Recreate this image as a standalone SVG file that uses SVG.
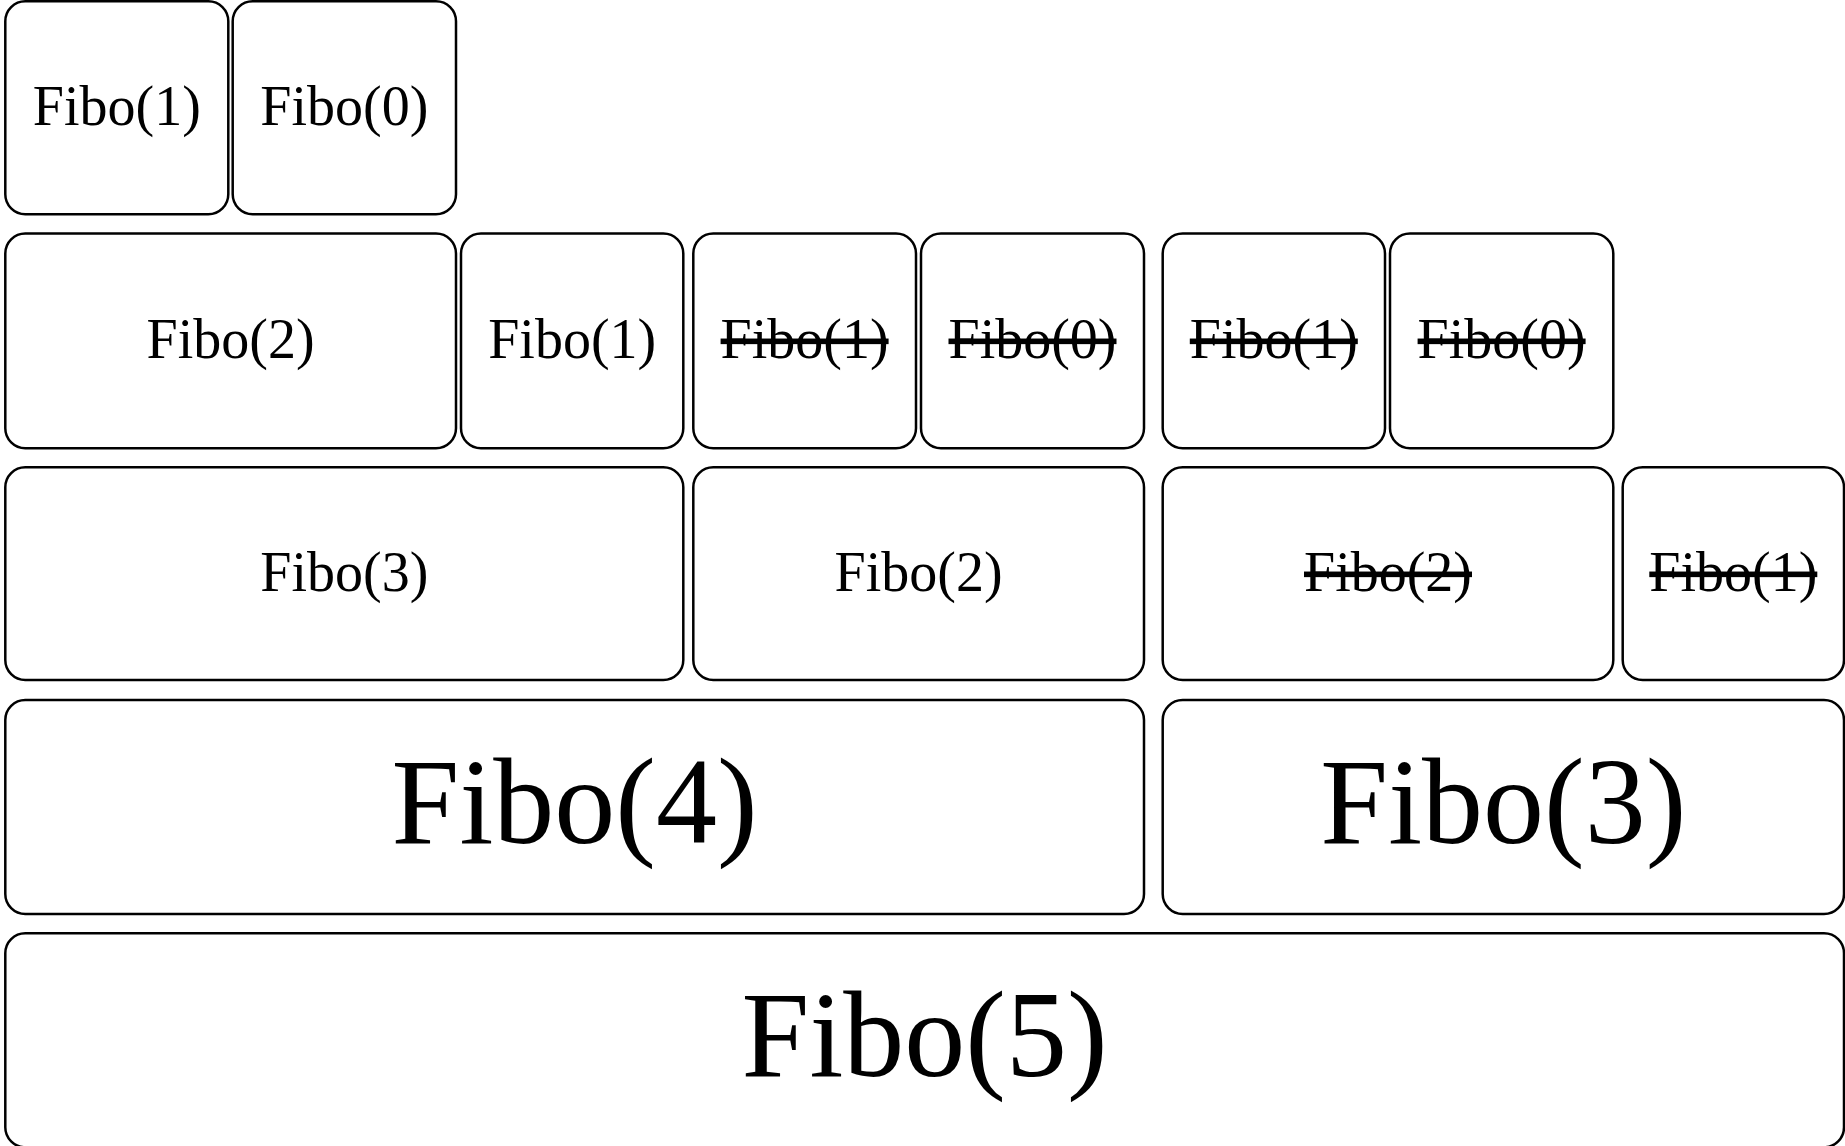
<svg xmlns="http://www.w3.org/2000/svg" width="1845" height="1146" viewBox="0 0 1845 1146">
<style>
.box{fill:#fff;stroke:#000;stroke-width:2.5}
.t{font-family:"Liberation Serif","Times New Roman",serif;fill:#000;text-anchor:middle}
.s{font-size:56px}
.l{font-size:122px}
.x{text-decoration:line-through}
</style>
<rect width="1845" height="1146" fill="#fff"/>
<g id="connectors"></g>
<g id="r1-fibo1"><rect class="box" x="5.3" y="1.3" width="223" height="213" rx="20"/><text class="t s" x="116.8" y="125">Fibo(1)</text></g>
<g id="r1-fibo0"><rect class="box" x="232.7" y="1.3" width="223.3" height="213" rx="20"/><text class="t s" x="344.3" y="125">Fibo(0)</text></g>
<g id="r2-fibo2"><rect class="box" x="5.3" y="233.5" width="450.7" height="214.8" rx="20"/><text class="t s" x="230.6" y="358">Fibo(2)</text></g>
<g id="r2-fibo1"><rect class="box" x="461" y="233.5" width="222.3" height="214.8" rx="20"/><text class="t s" x="572.2" y="358">Fibo(1)</text></g>
<g id="r2-fibo1-x"><rect class="box" x="693.3" y="233.5" width="222.7" height="214.8" rx="20"/><text class="t s x" x="804.6" y="358">Fibo(1)</text></g>
<g id="r2-fibo0-x"><rect class="box" x="921" y="233.5" width="223" height="214.8" rx="20"/><text class="t s x" x="1032.5" y="358">Fibo(0)</text></g>
<g id="r2-fibo1-x2"><rect class="box" x="1162.7" y="233.5" width="222.3" height="214.8" rx="20"/><text class="t s x" x="1273.8" y="358">Fibo(1)</text></g>
<g id="r2-fibo0-x2"><rect class="box" x="1390" y="233.5" width="223.3" height="214.8" rx="20"/><text class="t s x" x="1501.6" y="358">Fibo(0)</text></g>
<g id="r3-fibo3"><rect class="box" x="5.3" y="467.3" width="678" height="212.7" rx="20"/><text class="t s" x="344.3" y="591">Fibo(3)</text></g>
<g id="r3-fibo2"><rect class="box" x="693.3" y="467.3" width="450.7" height="212.7" rx="20"/><text class="t s" x="918.6" y="591">Fibo(2)</text></g>
<g id="r3-fibo2-x"><rect class="box" x="1162.7" y="467.3" width="450.6" height="212.7" rx="20"/><text class="t s x" x="1388" y="591">Fibo(2)</text></g>
<g id="r3-fibo1-x"><rect class="box" x="1622.7" y="467.3" width="221.3" height="212.7" rx="20"/><text class="t s x" x="1733.3" y="591">Fibo(1)</text></g>
<g id="r4-fibo4"><rect class="box" x="5.3" y="700" width="1138.7" height="214" rx="20"/><text class="t l" x="574.6" y="843">Fibo(4)</text></g>
<g id="r4-fibo3"><rect class="box" x="1162.7" y="700" width="681.3" height="214" rx="20"/><text class="t l" x="1503.3" y="843">Fibo(3)</text></g>
<g id="r5-fibo5"><rect class="box" x="5.3" y="933.3" width="1838.7" height="214" rx="20"/><text class="t l" x="924.6" y="1076">Fibo(5)</text></g>
</svg>
